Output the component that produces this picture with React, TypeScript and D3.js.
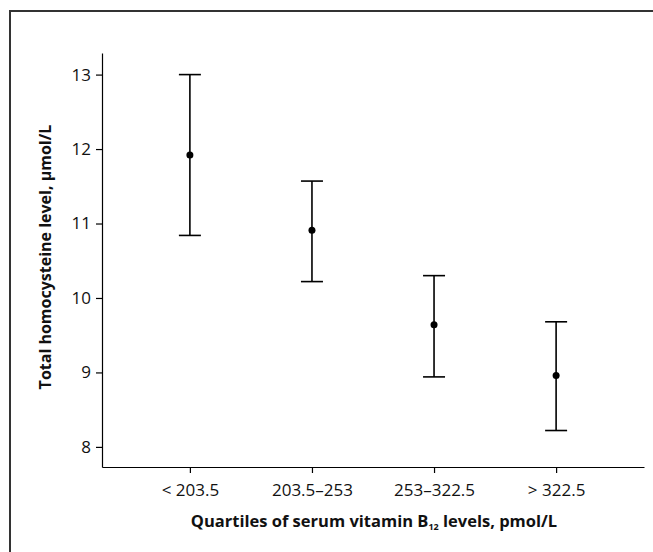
import React, { useEffect, useRef } from "react";
import * as d3 from "d3";

const categories = ["< 203.5", "203.5–253", "253–322.5", "> 322.5"];
const means = [11.92, 10.91, 9.64, 8.96];
const upper = [13.0, 11.57, 10.3, 9.68];
const lower = [10.84, 10.22, 8.94, 8.22];
const yTicks = [8, 9, 10, 11, 12, 13];

const W = 653;
const H = 552;
const font = "'Open Sans', 'DejaVu Sans', sans-serif";

const App = () => {
  const ref = useRef<SVGSVGElement>(null);

  useEffect(() => {
    const svg = d3.select(ref.current);
    svg.selectAll("*").remove();

    // frame around the figure, runs off the right and bottom edges
    svg
      .append("rect")
      .attr("x", 10)
      .attr("y", 11)
      .attr("width", W + 20)
      .attr("height", H + 20)
      .attr("fill", "none")
      .attr("stroke", "#333")
      .attr("stroke-width", 2);

    const left = 102;
    const right = 644;
    const top = 53;
    const bottom = 467;

    const x = d3.scalePoint().domain(categories).range([left, right]).padding(0.72);
    const y = d3.scaleLinear().domain([7.73, 13.29]).range([bottom, top]);

    // y axis
    const yAxis = svg
      .append("g")
      .attr("transform", `translate(${left},0)`)
      .call(
        d3
          .axisLeft(y)
          .tickValues(yTicks)
          .tickFormat(d3.format("d"))
          .tickSize(6)
          .tickPadding(5)
          .tickSizeOuter(0)
      );
    yAxis.select(".domain").attr("stroke", "#000").attr("stroke-width", 1.2);
    yAxis.selectAll(".tick line").attr("stroke", "#000").attr("stroke-width", 1.2);
    yAxis
      .selectAll(".tick text")
      .attr("font-family", font)
      .attr("font-size", 17)
      .attr("fill", "#111");

    // x axis
    const xAxis = svg
      .append("g")
      .attr("transform", `translate(0,${bottom})`)
      .call(d3.axisBottom(x).tickSize(6).tickPadding(11).tickSizeOuter(0));
    xAxis.select(".domain").attr("stroke", "#000").attr("stroke-width", 1.2);
    xAxis.selectAll(".tick line").attr("stroke", "#000").attr("stroke-width", 1.2);
    xAxis
      .selectAll(".tick text")
      .attr("font-family", font)
      .attr("font-size", 17)
      .attr("fill", "#111");

    // error bars
    const g = svg.append("g");
    categories.forEach((c, i) => {
      const cx = x(c)!;
      g.append("line")
        .attr("x1", cx)
        .attr("x2", cx)
        .attr("y1", y(upper[i]))
        .attr("y2", y(lower[i]))
        .attr("stroke", "#000")
        .attr("stroke-width", 1.6);
      [upper[i], lower[i]].forEach((v) => {
        g.append("line")
          .attr("x1", cx - 11)
          .attr("x2", cx + 11)
          .attr("y1", y(v))
          .attr("y2", y(v))
          .attr("stroke", "#000")
          .attr("stroke-width", 1.6);
      });
      g.append("circle").attr("cx", cx).attr("cy", y(means[i])).attr("r", 3.5).attr("fill", "#000");
    });

    // axis titles
    const xt = svg
      .append("text")
      .attr("x", (left + right) / 2 + 1)
      .attr("y", 527)
      .attr("text-anchor", "middle")
      .attr("font-family", font)
      .attr("font-weight", "bold")
      .attr("font-size", 16.5)
      .attr("fill", "#111");
    xt.append("tspan").text("Quartiles of serum vitamin B");
    xt.append("tspan").attr("font-size", 9).attr("dy", 3).text("12");
    xt.append("tspan").attr("dy", -3).text(" levels, pmol/L");

    svg
      .append("text")
      .attr("transform", `translate(51,257) rotate(-90)`)
      .attr("text-anchor", "middle")
      .attr("font-family", font)
      .attr("font-weight", "bold")
      .attr("font-size", 16)
      .attr("fill", "#111")
      .text("Total homocysteine level, µmol/L");

    return () => {
      svg.selectAll("*").remove();
    };
  }, []);

  return (
    <svg
      ref={ref}
      width={W}
      height={H}
      style={{ position: "absolute", left: 0, top: 0, background: "#fff" }}
    />
  );
};

export default App;
